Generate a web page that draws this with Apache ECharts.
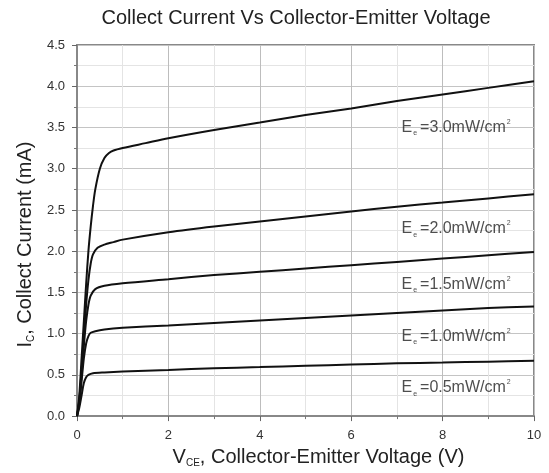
<!DOCTYPE html>
<html>
<head>
<meta charset="utf-8">
<script src="https://cdn.jsdelivr.net/npm/echarts@6/dist/echarts.min.js"></script>
<style>
  html, body { margin: 0; padding: 0; background: #fff; }
  #chart { width: 549px; height: 473px; }
</style>
</head>
<body>
<div id="chart"></div>
<script>
// curves: [V_CE (V), I_C (mA)]
const curve30 = [[0,0],[0.05,0.25],[0.1,0.7],[0.15,1.15],[0.2,1.6],[0.25,2.0],[0.3,2.3],[0.35,2.55],[0.4,2.75],[0.5,3.0],[0.6,3.13],[0.7,3.19],[0.8,3.22],[1,3.25],[1.5,3.31],[2,3.37],[3,3.47],[4,3.56],[5,3.65],[6,3.73],[7,3.82],[8,3.9],[9,3.98],[10,4.06]];
const curve20 = [[0,0],[0.05,0.2],[0.1,0.55],[0.15,0.95],[0.2,1.35],[0.25,1.65],[0.3,1.85],[0.35,1.96],[0.45,2.04],[0.6,2.08],[0.8,2.11],[1,2.14],[2,2.23],[3,2.3],[4,2.36],[5,2.42],[6,2.48],[7,2.54],[8,2.59],[9,2.64],[10,2.69]];
const curve15 = [[0,0],[0.05,0.18],[0.1,0.5],[0.15,0.85],[0.2,1.15],[0.25,1.35],[0.3,1.46],[0.4,1.54],[0.6,1.58],[1,1.61],[2,1.66],[3,1.71],[4,1.75],[5,1.79],[6,1.83],[7,1.87],[8,1.91],[9,1.95],[10,1.99]];
const curve10 = [[0,0],[0.05,0.15],[0.1,0.42],[0.15,0.7],[0.2,0.88],[0.25,0.97],[0.3,1.01],[0.4,1.03],[0.6,1.05],[1,1.07],[2,1.1],[3,1.13],[4,1.16],[5,1.19],[6,1.22],[7,1.25],[8,1.28],[9,1.31],[10,1.33]];
const curve05 = [[0,0],[0.05,0.1],[0.1,0.25],[0.15,0.4],[0.2,0.47],[0.25,0.5],[0.35,0.52],[0.6,0.53],[1,0.54],[2,0.56],[3,0.58],[4,0.595],[5,0.61],[6,0.625],[7,0.64],[8,0.65],[9,0.66],[10,0.67]];

const curveNames = ["3.0", "2.0", "1.5", "1.0", "0.5"];
const curves = [curve30, curve20, curve15, curve10, curve05];

// where the irradiance labels sit (data coords, left edge of text)
const labelX = [7.1, 7.1, 7.1, 7.1, 7.1];
const labelY = [3.5, 2.27, 1.6, 0.97, 0.34];

const chart = echarts.init(document.getElementById("chart"));

const FONT = "Liberation Sans, Arial, sans-serif";

let series = curves.map((c, i) => ({
  name: "Ee=" + curveNames[i],
  type: "line",
  data: c,
  smooth: 0.3,
  showSymbol: false,
  lineStyle: { color: "#111", width: 2 },
  silent: true,
}));

// labels as an invisible scatter
series.push({
  type: "scatter",
  symbolSize: 0,
  data: curveNames.map((n, i) => [labelX[i], labelY[i], n]),
  label: {
    show: true,
    position: "right",
    distance: 0,
    formatter: (p) => "{e|E}{sub|e}{t|=" + p.value[2] + "mW/cm}{sup|2}",
    rich: {
      e: { fontFamily: FONT, fontSize: 16, color: "#222" },
      t: { fontFamily: FONT, fontSize: 16, color: "#222" },
      sub: { fontFamily: FONT, fontSize: 7, color: "#222", padding: [12, 3, 0, 1] },
      sup: { fontFamily: FONT, fontSize: 7, color: "#222", padding: [0, 0, 11, 1] },
    },
  },
  silent: true,
});

const option = {
  animation: false,
  title: {
    text: "Collect Current Vs Collector-Emitter Voltage",
    left: 291,
    textAlign: "center",
    top: 3,
    textStyle: { fontFamily: FONT, fontSize: 20, fontWeight: "normal", color: "#222" },
  },
  grid: {
    left: 77, right: 15, top: 45, bottom: 55,
    show: true, borderColor: "#888", borderWidth: 2,
  },
  xAxis: {
    type: "value",
    min: 0, max: 10, interval: 2,
    axisLine: { lineStyle: { color: "#888", width: 2 } },
    axisTick: { length: 5, lineStyle: { color: "#666" } },
    minorTick: { show: true, splitNumber: 2, length: 3, lineStyle: { color: "#777" } },
    splitLine: { show: true, lineStyle: { color: "#bdbdbd", width: 1 } },
    minorSplitLine: { show: true, lineStyle: { color: "#e4e4e4", width: 1 } },
    axisLabel: { fontFamily: FONT, fontSize: 13, color: "#333", margin: 13 },
    name: "{v|V}{s|CE}{t|, Collector-Emitter Voltage (V)}",
    nameLocation: "middle",
    nameGap: 27,
    nameTextStyle: {
      padding: [0, 0, 0, 26],
      rich: {
        v: { fontFamily: FONT, fontSize: 20, color: "#222" },
        s: { fontFamily: FONT, fontSize: 10, color: "#222", padding: [12, 0, 0, 0] },
        t: { fontFamily: FONT, fontSize: 20, color: "#222" },
      },
    },
  },
  yAxis: {
    type: "value",
    min: 0, max: 4.5, interval: 0.5,
    axisLine: { show: true, lineStyle: { color: "#888", width: 2 } },
    axisTick: { show: true, length: 5, lineStyle: { color: "#666" } },
    minorTick: { show: true, splitNumber: 2, length: 3, lineStyle: { color: "#777" } },
    splitLine: { show: true, lineStyle: { color: "#c4c4c4", width: 1 } },
    minorSplitLine: { show: true, lineStyle: { color: "#e4e4e4", width: 1 } },
    axisLabel: {
      fontFamily: FONT, fontSize: 13, color: "#333", margin: 12,
      formatter: (v) => v.toFixed(1),
    },
    name: "{i|I}{s|C}{t|, Collect Current (mA)}",
    nameLocation: "middle",
    nameRotate: 90,
    nameGap: 37,
    nameTextStyle: {
      padding: [0, 28, 0, 0],
      rich: {
        i: { fontFamily: FONT, fontSize: 20, color: "#222" },
        s: { fontFamily: FONT, fontSize: 10, color: "#222", padding: [12, 0, 0, 0] },
        t: { fontFamily: FONT, fontSize: 20, color: "#222" },
      },
    },
  },
  series: series,
};

chart.setOption(option);
</script>
</body>
</html>
